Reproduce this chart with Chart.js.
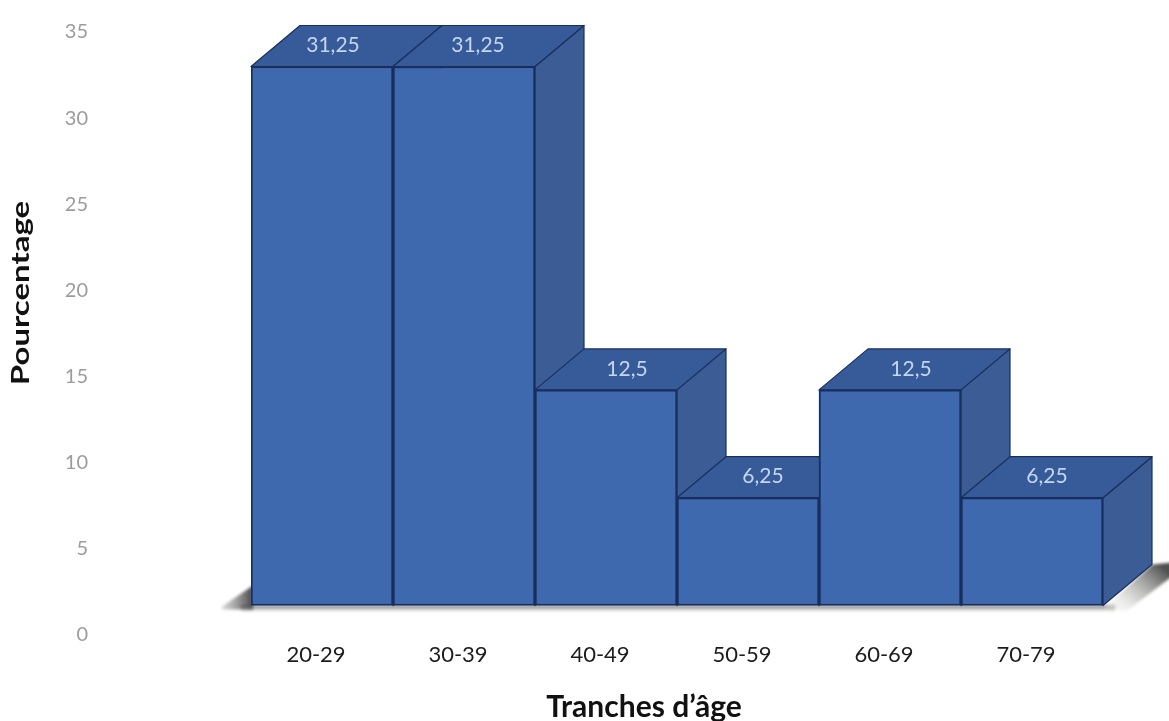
<!DOCTYPE html>
<html lang="fr">
<head>
<meta charset="utf-8">
<title>Tranches d'âge</title>
<script src="https://cdn.jsdelivr.net/npm/chart.js@4"></script>
<style>
  html, body { margin: 0; background: #fff; }
  canvas { display: block; }
</style>
</head>
<body>
<canvas id="ageChart" width="1169" height="721"></canvas>
<script>
const categories = ['20-29', '30-39', '40-49', '50-59', '60-69', '70-79'];
const pourcentages = [31.25, 31.25, 12.5, 6.25, 12.5, 6.25];
const yTitle = 'Pourcentage';
const xTitle = 'Tranches d\u2019âge';

// how far each value label sits right of its bar centre
const labelShift = [11, 14, 21, 15, 21, 15];
const depthX = 49;
const depthY = -41;
const edgeColor = '#182f5e';

function face(ctx, points, fill) {
    ctx.beginPath();
    points.forEach((p, i) => i ? ctx.lineTo(p[0], p[1]) : ctx.moveTo(p[0], p[1]));
    ctx.closePath();
    ctx.fillStyle = fill;
    ctx.fill();
    ctx.strokeStyle = edgeColor;
    ctx.lineWidth = 1.2;
    ctx.stroke();
}

// floor shadow + top and side faces, left to right so that each box covers the one before
const boxFaces = {
    id: 'boxFaces',
    beforeDatasetsDraw(chart) {
        const ctx = chart.ctx;
        const bars = chart.getDatasetMeta(0).data;
        const first = bars[0];
        const last = bars[bars.length - 1];
        const left = first.x - first.width / 2;
        const right = last.x + last.width / 2;
        const floor = first.base;

        ctx.save();
        ctx.filter = 'blur(1.5px)';
        let g = ctx.createLinearGradient(left - 30, 0, left + 2, 0);
        g.addColorStop(0, 'rgba(120,120,120,0.25)');
        g.addColorStop(1, 'rgba(60,60,60,0.95)');
        ctx.fillStyle = g;
        ctx.beginPath();
        ctx.moveTo(left - 29, floor + 1);
        ctx.lineTo(left + 2, floor - 20);
        ctx.lineTo(left + 2, floor + 4);
        ctx.lineTo(left - 29, floor + 4);
        ctx.fill();

        g = ctx.createLinearGradient(0, floor, 0, floor + 7);
        g.addColorStop(0, 'rgba(70,70,70,0.85)');
        g.addColorStop(1, 'rgba(190,190,190,0)');
        ctx.fillStyle = g;
        ctx.fillRect(left - 10, floor, right - left + 22, 7);

        g = ctx.createLinearGradient(right + 20, floor, right + depthX + 8, floor + depthY);
        g.addColorStop(0, 'rgba(225,225,220,0.5)');
        g.addColorStop(1, 'rgba(70,70,70,0.95)');
        ctx.fillStyle = g;
        ctx.beginPath();
        ctx.moveTo(right, floor + 3);
        ctx.lineTo(right + depthX, floor + depthY);
        ctx.lineTo(right + depthX + 20, floor + depthY - 2);
        ctx.lineTo(right + depthX + 20, floor + depthY + 12);
        ctx.lineTo(right + 24, floor + 5);
        ctx.fill();
        ctx.restore();

        ctx.save();
        ctx.lineJoin = 'round';
        bars.forEach(bar => {
            const l = bar.x - bar.width / 2;
            const r = bar.x + bar.width / 2;
            face(ctx, [[r, bar.y], [r + depthX, bar.y + depthY], [r + depthX, floor + depthY], [r, floor]], '#3b5c95');
            face(ctx, [[l, bar.y], [l + depthX, bar.y + depthY], [r + depthX, bar.y + depthY], [r, bar.y]], '#375b99');
        });
        ctx.restore();
    },
    afterDatasetsDraw(chart) {
        const ctx = chart.ctx;
        const bars = chart.getDatasetMeta(0).data;
        ctx.save();
        ctx.font = '21px Lato';
        ctx.fillStyle = '#c3d6ee';
        ctx.textAlign = 'center';
        ctx.textBaseline = 'middle';
        bars.forEach((bar, i) => {
            const text = String(pourcentages[i]).replace('.', ',');
            ctx.fillText(text, bar.x + labelShift[i], bar.y - 21);
        });

        // axis titles sit off the plot centre, so they are placed here
        ctx.fillStyle = '#111';
        ctx.font = 'bold 30px Lato';
        ctx.fillText(xTitle, 644, 707);
        ctx.translate(21, 293);
        ctx.rotate(-Math.PI / 2);
        ctx.scale(1.32, 1);
        ctx.font = 'bold 25px Lato';
        ctx.fillText(yTitle, 0, 0);
        ctx.restore();
    }
};

window.onload = function() {
    const ctx = document.getElementById('ageChart').getContext('2d');
    new Chart(ctx, {
        type: 'bar',
        data: {
            labels: categories,
            datasets: [{
                data: pourcentages,
                yAxisID: 'yBars',
                backgroundColor: '#3f69ae',
                borderColor: edgeColor,
                borderWidth: 2,
                borderSkipped: false,
                barPercentage: 1,
                categoryPercentage: 1
            }]
        },
        options: {
            responsive: false,
            animation: false,
            layout: { padding: { top: 32, right: 66 } },
            plugins: {
                legend: { display: false },
                tooltip: { enabled: false }
            },
            scales: {
                x: {
                    border: { display: false },
                    grid: { display: false, drawTicks: false },
                    afterFit: scale => {
                        scale.height = 86;
                        scale.paddingLeft = 0;
                        scale.paddingRight = 0;
                    },
                    ticks: {
                        color: '#1c1c1c',
                        font: { family: 'Lato', size: 22 },
                        padding: 7,
                        labelOffset: -6,
                        maxRotation: 0
                    }
                },
                y: {
                    min: 0,
                    max: 35,
                    border: { display: false },
                    grid: { display: false, drawTicks: false },
                    // the wide tick gap would otherwise be added above and below the plot too
                    afterFit: scale => {
                        scale.width = 251;
                        scale.paddingTop = 0;
                        scale.paddingBottom = 0;
                    },
                    ticks: {
                        stepSize: 5,
                        color: '#9c9c9c',
                        font: { family: 'Lato', size: 20 },
                        padding: 163
                    }
                },
                // the boxes stand on a raised floor, same unit size as the printed axis
                yBars: {
                    display: false,
                    min: -1.71,
                    max: 33.25
                }
            }
        },
        plugins: [boxFaces]
    });
};
</script>
</body>
</html>
